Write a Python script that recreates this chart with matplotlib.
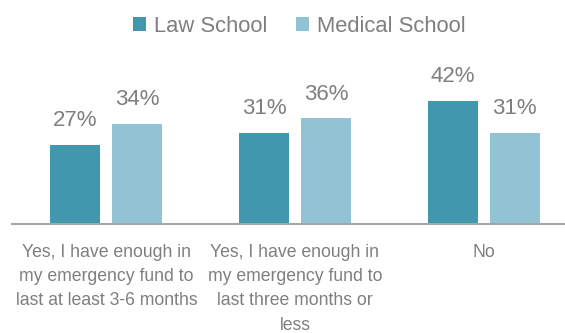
import matplotlib
matplotlib.use('Agg')
import matplotlib.pyplot as plt
import numpy as np

plt.rcParams['font.family'] = ['Liberation Sans', 'DejaVu Sans']

categories = ['Yes, I have enough in\nmy emergency fund to\nlast at least 3-6 months',
              'Yes, I have enough in\nmy emergency fund to\nlast three months or\nless',
              'No']
law = [27, 31, 42]
medical = [34, 36, 31]

law_color = '#4198AE'
med_color = '#92C3D5'
text_color = '#7F7F7F'

fig = plt.figure(figsize=(5.65, 3.33), dpi=100)
ax = fig.add_axes([12 / 565, 1 - 224 / 333, 553 / 565, 176 / 333])

x = np.arange(len(categories))
w = 0.265
off = 0.164
b1 = ax.bar(x - off, law, w, color=law_color, label='Law School')
b2 = ax.bar(x + off, medical, w, color=med_color, label='Medical School')

# percentage labels above each bar
for bars, vals in ((b1, law), (b2, medical)):
    for rect, v in zip(bars, vals):
        ax.annotate(f'{v}%', (rect.get_x() + rect.get_width() / 2, v),
                    xytext=(0, 10), textcoords='offset points',
                    ha='center', va='bottom', fontsize=16, color=text_color)

ax.set_xlim(-0.5, (565 - 105.5) / 189)
ax.set_ylim(0, 60)
ax.set_yticks([])
ax.set_xticks(x)
ax.set_xticklabels(categories, fontsize=12.7, color=text_color, linespacing=1.55, va='top')
ax.tick_params(axis='x', length=0, pad=14.5)
for s in ('top', 'right', 'left'):
    ax.spines[s].set_visible(False)
ax.spines['bottom'].set_color('#A6A6A6')
ax.spines['bottom'].set_linewidth(1.5)

leg = fig.legend(handles=[b1, b2], loc='center', bbox_to_anchor=(0.529, 1 - 26 / 333),
                 ncol=2, frameon=False, fontsize=15.8, handlelength=0.6, handleheight=0.6,
                 handletextpad=0.36, columnspacing=1.3, borderaxespad=0)
for t in leg.get_texts():
    t.set_color(text_color)

fig.savefig('out.png', dpi=100)
